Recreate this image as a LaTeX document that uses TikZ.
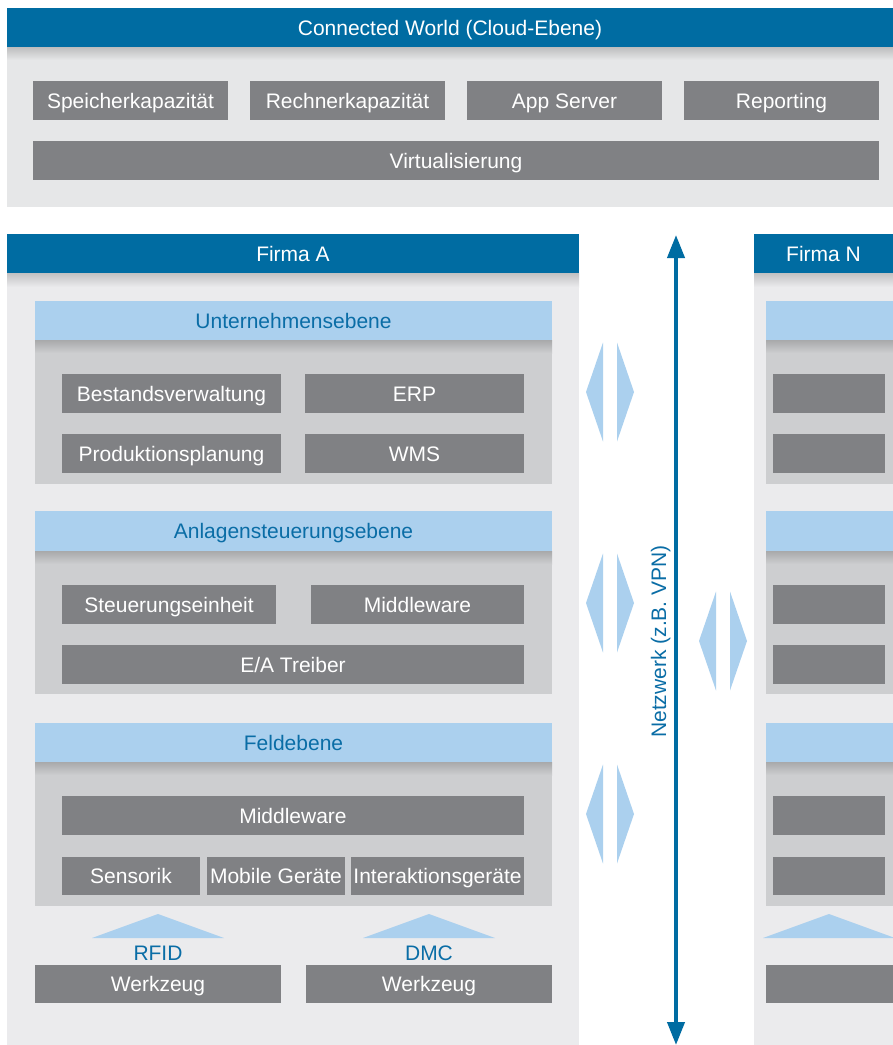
\documentclass[tikz,border=0pt]{standalone}
\usepackage{fontspec}
\setmainfont{Liberation Sans}
\usetikzlibrary{arrows.meta}
\definecolor{hblue}{HTML}{006CA2}
\definecolor{tblue}{HTML}{0A6DA6}
\definecolor{lblue}{HTML}{ABD0EE}
\definecolor{cloudbg}{HTML}{E6E7E8}
\definecolor{firmbg}{HTML}{EBEBED}
\definecolor{subbg}{HTML}{CDCED0}
\definecolor{boxgray}{HTML}{808184}
\newcommand\rbox[7]{%
  \pgfmathsetmacro\myrw{#4-#2}\pgfmathsetmacro\myrh{#5-#3}%
  \node[#6, minimum width=\myrw pt, minimum height=\myrh pt] (#1) at ({(#2+#4)/2},{(#3+#5)/2}) {#7};}
\newcommand\dshade[5]{%
  \shade[top color=#5!82!black, bottom color=#5] (#1,#2) rectangle (#3,#4);}
\newcommand\ddiamond[2]{%
  \fill[lblue] (#1-24,#2) -- (#1-7,#2-49.5) -- (#1-7,#2+49.5) -- cycle;
  \fill[lblue] (#1+7,#2-49.5) -- (#1+24,#2) -- (#1+7,#2+49.5) -- cycle;}
\begin{document}
\begin{tikzpicture}[x=1pt,y=-1pt,
  font=\fontsize{21}{25}\selectfont,
  base/.style={inner sep=0pt, outer sep=0pt, text height=15pt, text depth=0pt},
  gbox/.style={base, fill=boxgray, text=white},
  hbox/.style={base, fill=hblue, text=white},
  lbox/.style={base, fill=lblue, text=tblue},
  cpanel/.style={base, fill=cloudbg},
  fpanel/.style={base, fill=firmbg},
  spanel/.style={base, fill=subbg},
  tri/.style={fill=lblue},
  lbl/.style={text=tblue, inner sep=0pt, text height=15pt, text depth=0pt},
  net/.style={hblue, line width=4pt, {Triangle[length=23pt,width=17pt]}-{Triangle[length=23pt,width=17pt]}}]
\useasboundingbox (0,0) rectangle (893,1045);
\fill[white] (0,0) rectangle (893,1045);
% ---------------- Cloud ----------------
\rbox{cloudpanel}{7}{47}{893}{207}{cpanel}{}
\dshade{7}{47}{893}{60}{cloudbg}
\rbox{cloudhead}{7}{8}{893}{47}{hbox}{Connected World (Cloud-Ebene)}
\rbox{speicher}{33}{81}{228}{120}{gbox}{Speicherkapazität}
\rbox{rechner}{250}{81}{445}{120}{gbox}{Rechnerkapazität}
\rbox{appserver}{467}{81}{662}{120}{gbox}{App Server}
\rbox{reporting}{684}{81}{879}{120}{gbox}{Reporting}
\rbox{virt}{33}{141}{879}{180}{gbox}{Virtualisierung}
% ---------------- Firma A ----------------
\rbox{panelA}{7}{273}{579}{1045}{fpanel}{}
\dshade{7}{273}{579}{287}{firmbg}
\rbox{headA}{7}{234}{579}{273}{hbox}{Firma A}
% Unternehmensebene
\rbox{upanelA}{35}{340}{552}{484}{spanel}{}
\dshade{35}{340}{552}{353}{subbg}
\rbox{uheadA}{35}{301}{552}{340}{lbox}{Unternehmensebene}
\rbox{bestand}{62}{374}{281}{413}{gbox}{Bestandsverwaltung}
\rbox{erp}{305}{374}{524}{413}{gbox}{ERP}
\rbox{prod}{62}{434}{281}{473}{gbox}{Produktionsplanung}
\rbox{wms}{305}{434}{524}{473}{gbox}{WMS}
% Anlagensteuerungsebene
\rbox{apanelA}{35}{551}{552}{694}{spanel}{}
\dshade{35}{551}{552}{564}{subbg}
\rbox{aheadA}{35}{511}{552}{551}{lbox}{Anlagensteuerungsebene}
\rbox{steuer}{62}{585}{276}{624}{gbox}{Steuerungseinheit}
\rbox{middleA}{311}{585}{524}{624}{gbox}{Middleware}
\rbox{eatreiber}{62}{645}{524}{684}{gbox}{E/A Treiber}
% Feldebene
\rbox{fpanelA}{35}{762}{552}{906}{spanel}{}
\dshade{35}{762}{552}{775}{subbg}
\rbox{fheadA}{35}{723}{552}{762}{lbox}{Feldebene}
\rbox{middleF}{62}{796}{524}{835}{gbox}{Middleware}
\rbox{sensorik}{62}{857}{200}{895}{gbox}{Sensorik}
\rbox{mobile}{207}{857}{345}{895}{gbox}{Mobile Geräte}
\rbox{interakt}{351}{857}{524}{895}{gbox}{Interaktionsgeräte}
% RFID / DMC
\fill[tri] (92,938) -- (158,914) -- (224,938) -- cycle;
\fill[tri] (363,938) -- (429,914) -- (495,938) -- cycle;
\node[lbl] (rfid) at (158,952.5) {RFID};
\node[lbl] (dmc) at (429,952.5) {DMC};
\rbox{werkz1}{35}{965}{281}{1003}{gbox}{Werkzeug}
\rbox{werkz2}{306}{965}{552}{1003}{gbox}{Werkzeug}
% ---------------- Firma N ----------------
\rbox{panelN}{754}{273}{900}{1045}{fpanel}{}
\dshade{754}{273}{900}{287}{firmbg}
\rbox{headN}{754}{234}{893}{273}{hbox}{Firma N}
\rbox{upanelN}{766}{340}{900}{484}{spanel}{}
\dshade{766}{340}{900}{353}{subbg}
\rbox{uheadN}{766}{301}{900}{340}{lbox}{}
\rbox{n1}{773}{374}{885}{413}{gbox}{}
\rbox{n2}{773}{434}{885}{473}{gbox}{}
\rbox{apanelN}{766}{551}{900}{694}{spanel}{}
\dshade{766}{551}{900}{564}{subbg}
\rbox{aheadN}{766}{511}{900}{551}{lbox}{}
\rbox{n3}{773}{585}{885}{624}{gbox}{}
\rbox{n4}{773}{645}{885}{684}{gbox}{}
\rbox{fpanelN}{766}{762}{900}{906}{spanel}{}
\dshade{766}{762}{900}{775}{subbg}
\rbox{fheadN}{766}{723}{900}{762}{lbox}{}
\rbox{n5}{773}{796}{885}{835}{gbox}{}
\rbox{n6}{773}{857}{885}{895}{gbox}{}
\fill[tri] (763,938) -- (829,914) -- (895,938) -- cycle;
\rbox{werkzN}{766}{965}{900}{1003}{gbox}{}
% ---------------- Network ----------------
\ddiamond{610}{392}
\ddiamond{610}{603}
\ddiamond{610}{814}
\ddiamond{723}{641}
\coordinate (netTop) at (676,235);
\coordinate (netBot) at (676,1045);
\draw[net] (netBot) -- (netTop);
\node[lbl, rotate=90] (netlabel) at (658.5,641.5) {Netzwerk (z.B. VPN)};
\end{tikzpicture}
\end{document}
